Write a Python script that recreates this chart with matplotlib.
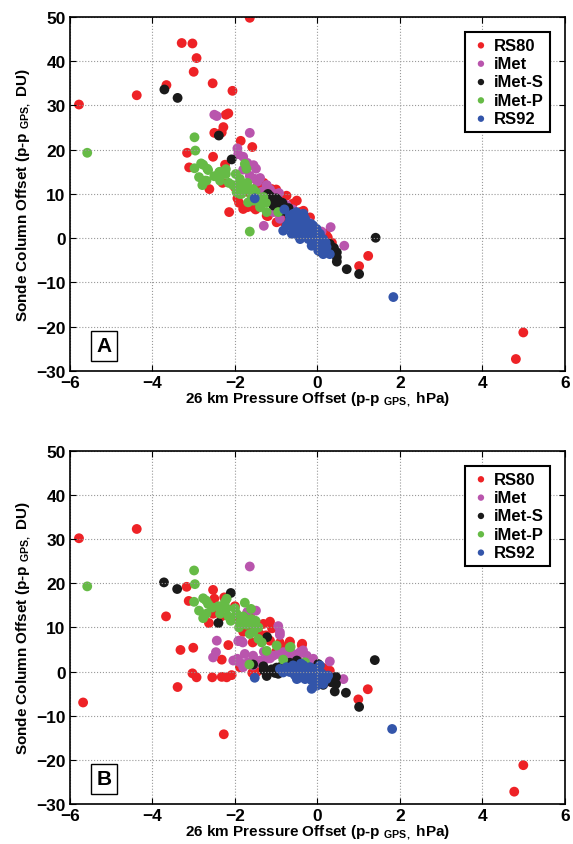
import numpy as np
import matplotlib.pyplot as plt
from matplotlib.ticker import MultipleLocator

# dados (painel A)
a_rs80_x = [-5.78, -4.38, -1.64, -3.29, -3.03, -2.93, -3.0, -3.66, -2.54, -2.06, -2.22, -2.16, -2.28,
            -2.32, -2.5, -1.86, -1.58, -2.53, -3.16, -3.11, -2.24, -2.62, -2.3, -2.14, -1.94, -1.8,
            -1.56, -1.23, -0.99, -0.75, -1.35, -1.11, -1.15, -0.42, -0.18, -0.67, -0.83, 0.30, 1.23,
            1.01, 4.99, 4.81, -1.7, -1.45, -1.0, -0.55, -0.3, 0.2, -0.71, -0.34,
            -1.3, -1.0, -0.9, -0.5, -1.7, -1.5, -1.2, -0.8, 0.25, 0.35, -2.0, -1.9, -1.45, -0.6]
a_rs80_y = [30.2, 32.3, 49.8, 44.1, 44.0, 40.7, 37.6, 34.6, 35.0, 33.3, 27.9, 28.2, 25.1,
            23.9, 23.8, 22.0, 20.6, 18.4, 19.3, 16.0, 16.6, 11.1, 12.5, 5.9, 9.0, 6.6,
            7.0, 5.1, 3.6, 9.6, 12.6, 11.1, 8.5, 5.9, 4.7, 6.6, 4.4, -0.9, -4.0,
            -6.3, -21.3, -27.3, 10.5, 8.0, 6.0, 4.0, 2.5, 1.0, 7.0, 6.2,
            12.5, 11.0, 9.5, 8.5, 7.0, 6.5, 5.0, 3.5, 0.2, -1.0, 11.5, 8.0, 11.8, 7.8]

a_imet_x = [-2.5, -2.44, -1.64, -1.94, -1.92, -1.8, -1.49, -1.39, -1.23, -1.64, -1.52, -0.93, -1.3,
            -1.07, -0.91, -0.99, -1.23, 0.32, 0.65, -1.7, -1.55, -1.1, -0.75, -0.6, -0.35, -1.35, -1.8,
            -1.45, -1.15, -0.85, -0.45, -0.2, 0.1]
a_imet_y = [27.9, 27.6, 23.8, 20.3, 19.0, 18.4, 15.7, 13.6, 12.0, 14.1, 13.4, 10.2, 2.8,
            5.9, 4.4, 10.0, 11.9, 2.5, -1.7, 17.0, 16.5, 9.0, 7.5, 6.5, 4.5, 10.5, 15.5,
            12.8, 11.0, 8.0, 5.5, 3.5, 1.5]

a_imets_x = [-3.71, -3.39, -2.39, -2.08, -1.23, -1.15, -0.99, -1.07, -0.91, -0.83, -0.79, -0.67, 1.41,
             1.01, 0.71, 0.47, 0.47, 0.47, 0.30, 0.06, 0.30, -0.87, -0.67, -0.91, -1.0, -1.1, -0.95,
             -0.75, -1.2, -1.3, -1.15, -1.05, -0.85, -0.7, -0.6, 0.15, 0.4]
a_imets_y = [33.6, 31.7, 23.2, 17.8, 9.6, 8.9, 8.1, 7.4, 7.0, 7.4, 6.6, 5.9, 0.1,
             -8.1, -7.0, -5.3, -4.3, -3.2, -1.3, -3.0, -2.8, 6.2, 5.1, 8.1, 9.0, 8.0, 8.5,
             6.0, 10.0, 8.5, 9.5, 7.8, 8.0, 6.8, 5.2, -2.0, -2.2]

a_imetp_x = [-5.58, -2.98, -2.96, -2.98, -2.77, -2.67, -2.87, -2.73, -2.79, -2.38, -2.22, -2.22, -2.36,
             -2.15, -1.98, -1.76, -1.72, -1.88, -1.8, -1.56, -1.6, -1.39, -1.96, -1.84, -1.64, -1.88,
             -1.68, -1.39, -1.23, -0.95, -0.67, -1.31, -2.82, -2.65, -2.69, -2.37, -1.5, -1.7, -1.45,
             -1.75, -2.05, -1.9, -1.55, -1.25, -2.5]
a_imetp_y = [19.3, 22.8, 19.8, 15.8, 16.6, 15.7, 13.8, 13.0, 12.0, 14.9, 15.6, 14.5, 13.0,
             12.5, 14.5, 16.8, 15.7, 13.4, 11.9, 11.1, 9.6, 7.4, 10.4, 10.0, 1.5, 10.0,
             8.1, 7.0, 5.9, 5.9, 2.8, 9.3, 16.9, 15.4, 13.0, 15.0, 10.5, 12.5, 9.0,
             11.0, 12.0, 12.2, 8.5, 8.0, 14.0]

a_rs92_x = [-0.67, -0.51, -0.34, -0.55, -0.42, -0.26, -0.10, -0.02, -0.18, 0.06, -0.34, -0.42, -0.22,
            -0.10, -0.02, 0.10, 0.22, 0.14, 0.30, 0.02, -0.14, -0.59, -0.47, -0.75, -0.30, -0.06,
            0.14, -0.26, -0.38, 0.10, -1.52, -0.83, -0.59, -0.67, -0.5, -0.47, 1.84,
            -0.8, -0.7, -0.45, -0.3, -0.2, -0.05, 0.05, 0.2, -0.62, -0.15]
a_rs92_y = [5.1, 5.9, 5.5, 3.6, 2.8, 3.6, 2.8, 2.1, 1.3, 1.0, 1.3, -0.2, -0.2,
            -0.9, -1.7, -1.3, -2.0, -3.6, -3.6, -2.8, -1.7, 2.1, 4.4, 2.8, 4.4, 0.6,
            -0.2, 2.1, 0.6, -2.8, 9.0, 1.7, 5.5, 4.0, 2.8, 0.6, -13.3,
            6.5, 3.3, 1.5, 2.5, 0.0, -0.5, -1.0, -1.0, 1.0, 3.2]

# dados (painel B)
b_rs80_x = [-5.78, -4.38, -3.17, -3.67, -3.12, -2.53, -2.5, -2.26, -2.53, -2.33, -2.63, -2.16, -2.0,
            -1.96, -1.64, -1.31, -1.15, -1.57, -1.15, -0.91, -0.67, -0.38, -3.32, -3.01, -3.03,
            -2.93, -3.39, -5.68, -2.27, -2.55, -2.32, -2.2, -2.08, -2.32, -1.88, -1.58, -1.47,
            -0.37, -0.67, 0.30, 0.34, 1.22, 0.99, 4.99, 4.77, -1.8, -1.4, -1.0, -0.5,
            -1.25, -0.8, -0.2, 0.15, -1.7, -1.1]
b_rs80_y = [30.2, 32.3, 19.2, 12.5, 16.0, 18.5, 16.5, 16.8, 13.1, 12.5, 11.0, 6.0, 14.8,
            11.9, 12.7, 10.8, 11.3, 6.6, 7.0, 6.5, 6.8, 6.0, 4.9, 5.4, -0.4,
            -1.3, -3.5, -7.0, -14.2, -1.3, -1.2, -1.3, -0.8, 2.7, 1.0, -0.3, -0.1,
            6.3, 6.6, 0.2, -2.4, -4.0, -6.3, -21.2, -27.2, 9.0, 8.5, 4.5, 3.0,
            8.2, 5.5, 2.0, 0.8, 10.2, 9.8]

b_imet_x = [-1.64, -1.49, -0.95, -0.91, -2.44, -1.92, -1.84, -2.53, -2.46, -1.9, -1.81, -1.94, -1.76,
            -1.56, -1.39, -1.68, -1.47, -1.23, -1.88, -1.8, -2.04, -1.56, -0.95, -0.83, -1.07, -0.91,
            -0.75, -0.59, 0.30, 0.63, -0.75, -0.59, -0.42, -0.26, -0.5, -0.1, -1.7,
            -1.3, -1.15, -0.65, -0.35, -0.2]
b_imet_y = [23.8, 13.8, 10.3, 8.3, 7.0, 6.9, 6.9, 3.2, 4.4, 7.0, 6.6, 2.9, 4.0,
            3.6, 2.5, 2.1, 2.1, 2.9, 2.1, 1.0, 2.5, 1.4, 4.0, 4.4, 3.6, 8.9,
            3.6, 3.2, 2.3, -1.7, 4.4, 4.0, 4.4, 3.6, 3.2, 2.9, 13.5,
            4.5, 3.0, 3.8, 4.8, 2.0]

b_imets_x = [-3.72, -3.4, -2.1, -2.4, -1.22, -1.56, -1.31, -1.23, -1.11, -0.99, -1.03, -0.87, -0.67,
             1.39, 1.01, 0.69, 0.45, 0.45, 0.42, 0.34, 0.06, 0.14, -0.5, 0.02, -1.15, -0.95,
             -1.3, -0.8, -0.2, 0.25]
b_imets_y = [20.2, 18.7, 17.8, 11.0, 7.8, 1.6, 1.2, -1.0, 0.5, 0.9, -0.3, 1.2, 2.0,
             2.6, -8.0, -4.8, -1.2, -2.8, -4.5, -2.4, -2.4, -3.0, 2.5, 1.7, 0.0, -0.5,
             0.3, 0.5, 0.8, -1.8]

b_imetp_x = [-5.58, -2.99, -2.97, -2.99, -2.77, -2.70, -2.65, -2.24, -2.40, -2.20, -2.87, -2.69, -2.77,
             -2.36, -2.16, -1.76, -2.0, -1.61, -1.96, -1.8, -1.6, -1.88, -1.72, -1.52, -1.43, -1.64,
             -1.43, -1.35, -0.99, -0.67, -1.65, -1.23, -0.83, -0.65, -0.3, -2.2, -1.9, -1.55,
             -2.1, -1.75, -1.5, -2.55]
b_imetp_y = [19.3, 22.9, 19.8, 15.8, 16.6, 16.1, 15.3, 15.8, 14.8, 14.3, 13.8, 13.1, 12.1,
             13.1, 12.5, 15.6, 14.3, 14.2, 13.1, 12.5, 11.9, 11.2, 10.6, 10.4, 10.0, 8.5,
             7.4, 6.6, 5.9, 5.5, 1.6, 4.7, 2.7, 5.6, 2.1, 16.5, 10.0, 9.0,
             11.5, 12.0, 11.5, 14.5]

b_rs92_x = [-0.91, -0.75, -0.59, -0.46, -0.34, -0.18, -0.06, 0.06, -0.55, -0.38, -0.26, -0.10, 0.02,
            0.14, -0.5, -0.3, -0.14, 0.06, 0.22, -0.02, -0.14, 0.14, -0.83, -0.67, -0.42, -0.22,
            -0.06, 0.26, -1.52, -0.83, -0.67, -0.55, -0.47, 1.81,
            -0.7, -0.4, -0.25, 0.0, 0.1, -0.35]
b_rs92_y = [0.6, 1.0, 1.4, 0.6, 1.4, 1.0, 0.6, 1.4, -0.5, -0.9, -0.2, -0.5, -0.9,
            -1.3, -1.7, -1.7, -2.0, -2.4, -1.7, -3.2, -3.9, -2.8, -0.2, 0.2, 0.2, -1.3,
            -1.7, -0.9, -1.4, 0.3, -0.1, -0.8, -1.5, -13.0,
            0.8, 1.8, 0.3, 0.0, -0.4, -1.2]

nomes = ['RS80', 'iMet', 'iMet-S', 'iMet-P', 'RS92']
cores = ['#ee2226', '#b955ad', '#1a1a1a', '#66bb46', '#3355aa']

paineis = [
    ('A', [(a_rs80_x, a_rs80_y), (a_imet_x, a_imet_y), (a_imets_x, a_imets_y),
           (a_imetp_x, a_imetp_y), (a_rs92_x, a_rs92_y)]),
    ('B', [(b_rs80_x, b_rs80_y), (b_imet_x, b_imet_y), (b_imets_x, b_imets_y),
           (b_imetp_x, b_imetp_y), (b_rs92_x, b_rs92_y)]),
]

plt.rcParams['font.family'] = ['Liberation Sans', 'DejaVu Sans']
plt.rcParams['font.weight'] = 'bold'
plt.rcParams['axes.labelweight'] = 'bold'
plt.rcParams['mathtext.fontset'] = 'custom'
plt.rcParams['mathtext.rm'] = 'Liberation Sans:bold'
plt.rcParams['mathtext.bf'] = 'Liberation Sans:bold'
plt.rcParams['mathtext.default'] = 'rm'

fig = plt.figure(figsize=(5.73, 8.45), dpi=100)
posicoes = [[0.122, 0.5598, 0.864, 0.419], [0.122, 0.0473, 0.864, 0.418]]

for (letra, series), pos in zip(paineis, posicoes):
    ax = fig.add_axes(pos)
    for (sx, sy), nome, cor in zip(series, nomes, cores):
        ax.scatter(sx, sy, s=50, color=cor, edgecolors='none', label=nome)

    ax.set_xlim(-6, 6)
    ax.set_ylim(-30, 50)
    ax.xaxis.set_major_locator(MultipleLocator(2))
    ax.yaxis.set_major_locator(MultipleLocator(10))
    ax.grid(True, color='#999999', linestyle=':', linewidth=0.8)
    ax.tick_params(direction='in', top=True, right=True, labelsize=12.5, length=4, pad=3)
    for lbl in ax.get_xticklabels() + ax.get_yticklabels():
        lbl.set_fontweight('bold')
    for spine in ax.spines.values():
        spine.set_linewidth(1.2)

    ax.set_xlabel('26 km Pressure Offset (p-p $_{GPS,}$ hPa)', fontsize=11, fontweight='bold', labelpad=0)
    ax.set_ylabel('Sonde Column Offset (p-p $_{GPS,}$ DU)', fontsize=11, fontweight='bold', labelpad=2)

    leg = ax.legend(loc='upper right', prop={'size': 12, 'weight': 'bold'}, handletextpad=0.2,
                    markerscale=0.65, borderaxespad=0.9, labelspacing=0.2, fancybox=False,
                    framealpha=1, handlelength=1.2, borderpad=0.35)
    leg.get_frame().set_edgecolor('black')
    leg.get_frame().set_linewidth(1.5)

    ax.text(0.069, 0.071, letra, transform=ax.transAxes, fontsize=15, fontweight='bold',
            ha='center', va='center',
            bbox=dict(boxstyle='square,pad=0.25', facecolor='white', edgecolor='black', linewidth=1))

plt.savefig('out.png', dpi=100)
